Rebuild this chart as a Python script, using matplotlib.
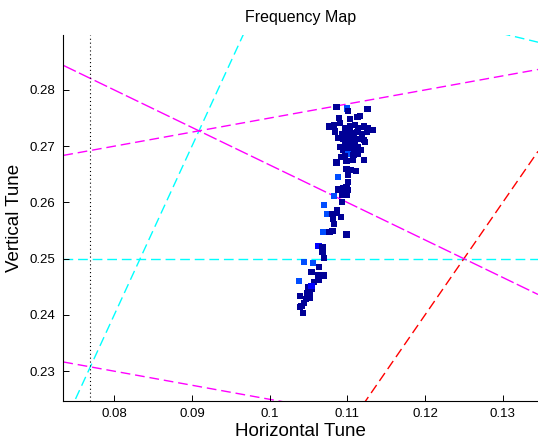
import matplotlib
matplotlib.use("Agg")
import matplotlib.pyplot as plt
import numpy as np

# tune footprint (horizontal / vertical tune) and diffusion colour index
qx = [0.1086, 0.1100, 0.1101, 0.1126, 0.1113, 0.1116, 0.1089, 0.1103,
      0.1076, 0.1083, 0.1091, 0.1097, 0.1103, 0.1110, 0.1114, 0.1121,
      0.1126, 0.1133, 0.1084, 0.1093, 0.1099, 0.1106, 0.1112, 0.1119,
      0.1125, 0.1088, 0.1095, 0.1101, 0.1108, 0.1114, 0.1121, 0.1097,
      0.1103, 0.1110, 0.1123, 0.1097, 0.1103, 0.1110, 0.1095, 0.1101,
      0.1108, 0.1114, 0.1101, 0.1092, 0.1097, 0.1108, 0.1114, 0.1091,
      0.1118, 0.1107, 0.1086, 0.1099, 0.1121, 0.1099, 0.1105, 0.1111,
      0.1088, 0.1101, 0.1101, 0.1099, 0.1095, 0.1088, 0.1101, 0.1083,
      0.1093, 0.1099, 0.1093, 0.1070, 0.1087, 0.1087, 0.1074, 0.1080,
      0.1082, 0.1092, 0.1083, 0.1069, 0.1077, 0.1081, 0.1099, 0.1063,
      0.1068, 0.1068, 0.1070, 0.1044, 0.1056, 0.1064, 0.1054, 0.1063,
      0.1070, 0.1057, 0.1063, 0.1038, 0.1050, 0.1054, 0.1052, 0.1048,
      0.1039, 0.1052, 0.1047, 0.1044, 0.1041, 0.1039, 0.1043, 0.1054]
qy = [0.2769, 0.2767, 0.2763, 0.2766, 0.2752, 0.2754, 0.2750, 0.2748,
      0.2735, 0.2738, 0.2741, 0.2732, 0.2735, 0.2738, 0.2732, 0.2735,
      0.2732, 0.2729, 0.2726, 0.2721, 0.2723, 0.2723, 0.2725, 0.2721,
      0.2725, 0.2714, 0.2713, 0.2715, 0.2714, 0.2713, 0.2711, 0.2708,
      0.2708, 0.2707, 0.2708, 0.2702, 0.2705, 0.2702, 0.2693, 0.2696,
      0.2696, 0.2699, 0.2686, 0.2681, 0.2683, 0.2684, 0.2687, 0.2698,
      0.2693, 0.2675, 0.2671, 0.2674, 0.2675, 0.2659, 0.2658, 0.2656,
      0.2645, 0.2649, 0.2637, 0.2628, 0.2625, 0.2623, 0.2622, 0.2612,
      0.2614, 0.2613, 0.2601, 0.2595, 0.2587, 0.2581, 0.2579, 0.2579,
      0.2571, 0.2574, 0.2561, 0.2548, 0.2547, 0.2549, 0.2543, 0.2523,
      0.2520, 0.2512, 0.2501, 0.2494, 0.2492, 0.2485, 0.2476, 0.2471,
      0.2470, 0.2459, 0.2462, 0.2460, 0.2450, 0.2447, 0.2441, 0.2438,
      0.2434, 0.2430, 0.2428, 0.2421, 0.2416, 0.2414, 0.2404, 0.2452]
diffusion = [0.02, 0.20, 0.02, 0.02, 0.02, 0.02, 0.02, 0.02,
             0.02, 0.02, 0.02, 0.02, 0.02, 0.02, 0.02, 0.02,
             0.02, 0.02, 0.02, 0.02, 0.02, 0.02, 0.02, 0.02,
             0.02, 0.02, 0.02, 0.02, 0.02, 0.02, 0.02, 0.02,
             0.02, 0.02, 0.02, 0.02, 0.02, 0.02, 0.02, 0.02,
             0.02, 0.02, 0.20, 0.02, 0.02, 0.02, 0.02, 0.02,
             0.02, 0.02, 0.02, 0.02, 0.02, 0.02, 0.02, 0.02,
             0.20, 0.02, 0.02, 0.02, 0.02, 0.02, 0.02, 0.20,
             0.02, 0.02, 0.02, 0.20, 0.02, 0.02, 0.20, 0.02,
             0.02, 0.02, 0.02, 0.20, 0.02, 0.02, 0.02, 0.12,
             0.02, 0.02, 0.02, 0.20, 0.20, 0.02, 0.02, 0.02,
             0.02, 0.02, 0.02, 0.20, 0.02, 0.02, 0.02, 0.02,
             0.02, 0.02, 0.02, 0.02, 0.02, 0.02, 0.02, 0.12]

# resonance lines m*Qx + n*Qy = p
res_m = [0, 3, 1, 2, 2, -1, 1]
res_n = [4, -1, 3, -1, 3, 4, 4]
res_p = [1, 0, 1, 0, 1, 1, 1]
res_color = ['#00FFFF', '#00FFFF', '#00FFFF', '#FF0000', '#FF00FF', '#FF00FF', '#FF00FF']
res_dash = [(7, 3.5), (7, 3.5), (7, 3.5), (7, 3.5), (10, 2.5), (7, 3.5), (7, 3.5)]

xlim = (0.07345, 0.13454)
ylim = (0.22475, 0.28977)

plt.rcParams['font.family'] = ['Liberation Sans', 'DejaVu Sans']

fig = plt.figure(figsize=(5.38, 4.4), dpi=100)
ax = fig.add_axes([0.1177, 0.0893, 0.8823, 0.8312])

xs = np.linspace(xlim[0], xlim[1], 200)
for m, n, p, c, d in zip(res_m, res_n, res_p, res_color, res_dash):
    ax.plot(xs, (p - m * xs) / n, color=c, lw=1.0, dashes=d, zorder=1)

# 13th order vertical line
ax.axvline(1 / 13, color='black', lw=0.8, dashes=(1, 2.5), zorder=1)

ax.scatter(qx, qy, c=diffusion, cmap='jet', vmin=0, vmax=1, marker='s',
           s=20, linewidths=0, zorder=3)

ax.set_xlim(xlim)
ax.set_ylim(ylim)
ax.set_xticks([0.08, 0.09, 0.1, 0.11, 0.12, 0.13])
ax.set_xticklabels(['0.08', '0.09', '0.1', '0.11', '0.12', '0.13'])
ax.set_yticks([0.23, 0.24, 0.25, 0.26, 0.27, 0.28])
ax.set_yticklabels(['0.23', '0.24', '0.25', '0.26', '0.27', '0.28'])
ax.tick_params(direction='in', length=4, width=0.7, labelsize=9.5, pad=5.5)
ax.spines['top'].set_visible(False)
ax.spines['right'].set_visible(False)
ax.spines['left'].set_linewidth(0.8)
ax.spines['bottom'].set_linewidth(0.8)

ax.set_xlabel('Horizontal Tune', fontsize=13.5, labelpad=2)
ax.set_ylabel('Vertical Tune', fontsize=13.5, labelpad=5)
ax.set_title('Frequency Map', fontsize=11.5, pad=9)

fig.savefig('out.png', dpi=100)
